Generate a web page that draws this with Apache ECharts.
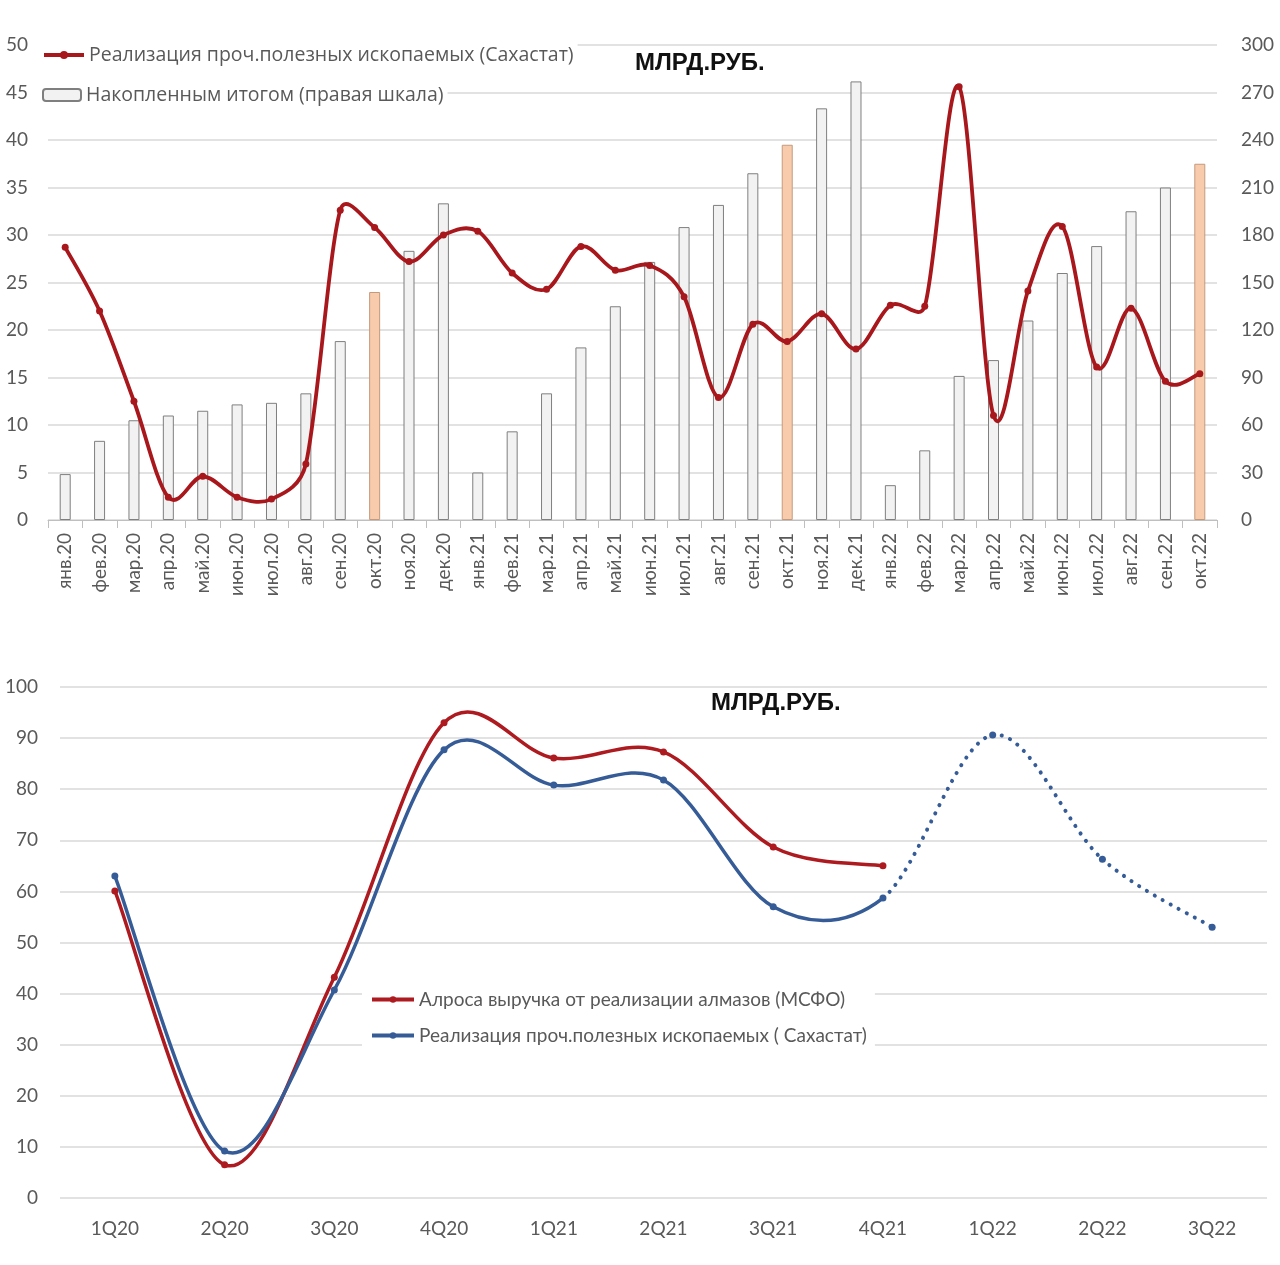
<!DOCTYPE html>
<html><head><meta charset="utf-8">
<script src="https://cdn.jsdelivr.net/npm/echarts@6/dist/echarts.min.js"></script>
<style>
html,body{margin:0;padding:0;background:#fff;}
#topChart{position:absolute;left:0;top:0;width:1280px;height:620px;}
#bottomChart{position:absolute;left:0;top:620px;width:1280px;height:645px;}
</style></head>
<body>
<div id="topChart"></div>
<div id="bottomChart"></div>
<script>
// ---------- DATA: top chart ----------
const months = ['янв.20','фев.20','мар.20','апр.20','май.20','июн.20','июл.20','авг.20','сен.20','окт.20','ноя.20','дек.20',
  'янв.21','фев.21','мар.21','апр.21','май.21','июн.21','июл.21','авг.21','сен.21','окт.21','ноя.21','дек.21',
  'янв.22','фев.22','мар.22','апр.22','май.22','июн.22','июл.22','авг.22','сен.22','окт.22'];
const monthlySales = [28.7, 22.0, 12.5, 2.4, 4.6, 2.4, 2.2, 5.9, 32.6, 30.8, 27.2, 30.0,
  30.4, 26.0, 24.3, 28.8, 26.3, 26.8, 23.5, 12.9, 20.6, 18.8, 21.7, 18.0,
  22.6, 22.5, 45.6, 11.0, 24.1, 30.9, 16.1, 22.3, 14.6, 15.4];
const cumulativeTotal = [29, 50, 63, 66, 69, 73, 74, 80, 113, 144, 170, 200,
  30, 56, 80, 109, 135, 163, 185, 199, 219, 237, 260, 277,
  22, 44, 91, 101, 126, 156, 173, 195, 210, 225];
const highlightMonths = ['окт.20','окт.21','окт.22'];
const leftTicks = [0, 50, 5];
const rightTicks = [0, 300, 30];

// ---------- DATA: bottom chart ----------
const quarters = ['1Q20','2Q20','3Q20','4Q20','1Q21','2Q21','3Q21','4Q21','1Q22','2Q22','3Q22'];
const alrosaRevenue = [60.1, 6.5, 43.2, 93.0, 86.1, 87.3, 68.7, 65.0, null, null, null];
const sakhastatQuarterly = [63.0, 9.2, 40.7, 87.7, 80.8, 81.8, 57.0, 58.7, 90.6, 66.3, 53.0];
const lastActualIndex = 7; // 4Q21; later quarters drawn dotted
const bottomTicks = [0, 100, 10];

const nameLine = 'Реализация проч.полезных ископаемых (Сахастат)';
const nameBars = 'Накопленным итогом (правая шкала)';
const nameAlrosa = 'Алроса выручка от реализации алмазов (МСФО)';
const nameSakha = 'Реализация проч.полезных ископаемых ( Сахастат)';

const FONT = 'Lato, "Open Sans", sans-serif';
const TXT = '#595959';
const GRID = '#d9d9d9';
const RED = '#a8171c';
const TITLE_FONT = '"Liberation Sans Narrow","Arial Narrow","Liberation Sans",Arial,sans-serif';

// Excel-style smoothed line (Bezier, Catmull-Rom tangents limited by neighbouring segment length)
function splineSeries(name, values, yAxisIndex, stroke, width, dash, segOk) {
  const data = [];
  for (let i = 0; i < values.length - 1; i++)
    if (values[i] != null && values[i + 1] != null && segOk(i)) data.push([i, values[i]]);
  const limit = (tx, ty, seg) => {
    const len = Math.hypot(tx, ty), maxLen = 0.5 * seg;
    if (len > maxLen && len > 0) { const k = maxLen / len; return [tx * k, ty * k]; }
    return [tx, ty];
  };
  return {
    type: 'custom', name, yAxisIndex, z: 2, silent: true, clip: false, data,
    renderItem(params, api) {
      const i = api.value(0);
      const P = k => (k < 0 || k >= values.length || values[k] == null) ? null : api.coord([k, values[k]]);
      const p1 = P(i), p2 = P(i + 1);
      const p0 = P(i - 1) || p1, p3 = P(i + 2) || p2;
      const seg = Math.hypot(p2[0] - p1[0], p2[1] - p1[1]);
      const t1 = limit((p2[0] - p0[0]) / 6, (p2[1] - p0[1]) / 6, seg);
      const t2 = limit((p3[0] - p1[0]) / 6, (p3[1] - p1[1]) / 6, seg);
      return {
        type: 'bezierCurve',
        shape: {x1: p1[0], y1: p1[1], x2: p2[0], y2: p2[1],
          cpx1: p1[0] + t1[0], cpy1: p1[1] + t1[1],
          cpx2: p2[0] - t2[0], cpy2: p2[1] - t2[1]},
        style: {stroke, lineWidth: width, fill: 'none', lineDash: dash, lineCap: 'round', lineJoin: 'round'}
      };
    }
  };
}

// ---------- TOP ----------
const chartTop = echarts.init(document.getElementById('topChart'), null, {renderer:'canvas'});
chartTop.setOption({
  animation:false,
  textStyle:{fontFamily:FONT},
  title:{text:'МЛРД.РУБ.', left:635, top:51, padding:0,
    textStyle:{fontFamily:TITLE_FONT,fontWeight:'bold',fontSize:24,color:'#111'}},
  legend:[
    {data:[nameLine], left:38, top:42, backgroundColor:'#fff', padding:[3,4,3,4], itemWidth:40, itemHeight:10,
     lineStyle:{opacity:1, width:4}, textStyle:{fontFamily:'"Open Sans",'+FONT,fontSize:19.5,color:TXT}},
    {data:[nameBars], left:38, top:82, backgroundColor:'#fff', padding:[3,4,3,4], itemWidth:38, itemHeight:12,
     textStyle:{fontFamily:'"Open Sans",'+FONT,fontSize:19.5,color:TXT}}
  ],
  grid:{left:48, right:63, top:45, height:475, containLabel:false},
  xAxis:{type:'category', data:months, boundaryGap:true,
    axisLine:{lineStyle:{color:'#bfbfbf',width:1}},
    axisTick:{show:true,length:8,lineStyle:{color:'#bfbfbf'}},
    axisLabel:{rotate:90, interval:0, margin:13, fontFamily:FONT, fontSize:19, color:TXT}},
  yAxis:[
    {type:'value', min:leftTicks[0], max:leftTicks[1], interval:leftTicks[2],
     splitLine:{lineStyle:{color:GRID,width:1.5}}, axisLine:{show:false}, axisTick:{show:false},
     axisLabel:{margin:20, fontFamily:FONT, fontSize:19, color:TXT}},
    {type:'value', min:rightTicks[0], max:rightTicks[1], interval:rightTicks[2], position:'right',
     splitLine:{show:false}, axisLine:{show:false}, axisTick:{show:false},
     axisLabel:{margin:24, fontFamily:FONT, fontSize:19, color:TXT}}
  ],
  series:[
    {name:nameBars, type:'bar', yAxisIndex:1, barWidth:11, z:1,
     itemStyle:{color:'#f2f2f2', borderColor:'#7f7f7f', borderWidth:1},
     data:cumulativeTotal.map((v,i)=> highlightMonths.includes(months[i])
        ? {value:v, itemStyle:{color:'#f8cbad', borderColor:'#c49a7c', borderWidth:1}}
        : v)},
    splineSeries('_curveTop', monthlySales, 0, RED, 3.8, null, ()=>true),
    {name:nameLine, type:'line', yAxisIndex:0, z:3,
     symbol:'circle', symbolSize:7, showSymbol:true,
     lineStyle:{color:RED, width:4, opacity:0}, itemStyle:{color:RED},
     data:monthlySales}
  ]
});

// ---------- BOTTOM ----------
const chartBottom = echarts.init(document.getElementById('bottomChart'), null, {renderer:'canvas'});
const BRED = '#ad1a1f', BLUE = '#365c97';
chartBottom.setOption({
  animation:false,
  textStyle:{fontFamily:FONT},
  title:{text:'МЛРД.РУБ.', left:711, top:71, padding:0,
    textStyle:{fontFamily:TITLE_FONT,fontWeight:'bold',fontSize:24,color:'#111'}},
  legend:{data:[nameAlrosa, nameSakha], orient:'vertical', left:362, top:364, itemGap:17,
    backgroundColor:'#fff', padding:[6,8,6,8], itemWidth:42, itemHeight:8,
    lineStyle:{opacity:1, width:4},
    textStyle:{fontFamily:FONT, fontSize:19, color:TXT}},
  grid:{left:60, right:13, top:67, bottom:67, containLabel:false},
  xAxis:{type:'category', data:quarters, boundaryGap:true,
    axisLine:{show:false}, axisTick:{show:false},
    axisLabel:{margin:21, fontFamily:FONT, fontSize:19, color:TXT}},
  yAxis:{type:'value', min:bottomTicks[0], max:bottomTicks[1], interval:bottomTicks[2],
    splitLine:{lineStyle:{color:GRID,width:1.5}}, axisLine:{show:false}, axisTick:{show:false},
    axisLabel:{margin:22, fontFamily:FONT, fontSize:19, color:TXT}},
  series:[
    splineSeries('_curveAlrosa', alrosaRevenue, 0, BRED, 3.5, null, ()=>true),
    splineSeries('_curveSakha', sakhastatQuarterly, 0, BLUE, 3.5, null, i=> i < lastActualIndex),
    splineSeries('_curveForecast', sakhastatQuarterly, 0, BLUE, 4, [0.1, 9], i=> i >= lastActualIndex),
    {name:nameAlrosa, type:'line', z:3, symbol:'circle', symbolSize:7,
     lineStyle:{color:BRED,width:4,opacity:0}, itemStyle:{color:BRED}, data:alrosaRevenue},
    {name:nameSakha, type:'line', z:4, symbol:'circle', symbolSize:7,
     lineStyle:{color:BLUE,width:4,opacity:0}, itemStyle:{color:BLUE}, data:sakhastatQuarterly}
  ]
});
</script>
</body></html>
